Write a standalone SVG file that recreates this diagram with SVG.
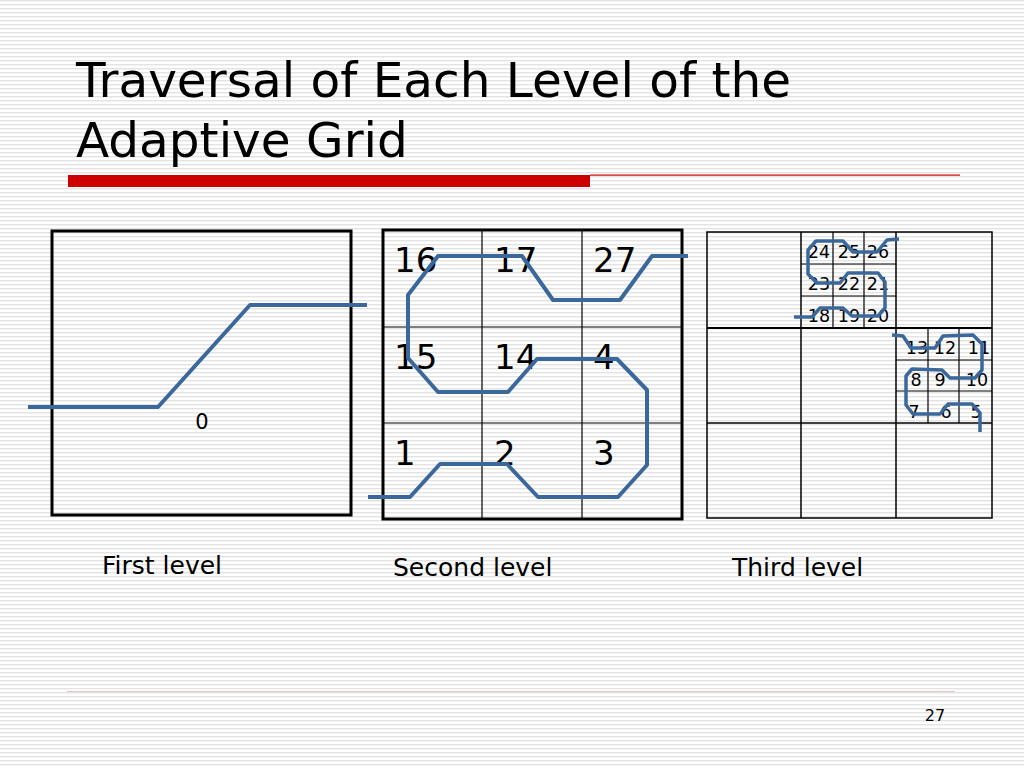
<svg xmlns="http://www.w3.org/2000/svg" width="1024" height="768" viewBox="0 0 1024 768">
  <defs>
    <pattern id="stripes" x="0" y="0" width="8" height="4" patternUnits="userSpaceOnUse">
      <rect x="0" y="0" width="8" height="4" fill="#ffffff"/>
      <rect x="0" y="0" width="8" height="1.4" fill="#e3e3e3"/>
    </pattern>
  </defs>
  <style>
    .title { font-family: "DejaVu Sans", Verdana, sans-serif; font-size: 48.5px; fill: #000; }
    .label { font-family: "DejaVu Sans", Verdana, sans-serif; font-size: 25px; fill: #000; }
    .n2 { font-family: "DejaVu Sans", Verdana, sans-serif; font-size: 34px; fill: #000; }
    .n3 { font-family: "DejaVu Sans", Verdana, sans-serif; font-size: 17.5px; fill: #000; text-anchor: middle; }
    .thick { fill: none; stroke: #000; stroke-width: 3; }
    .thin { fill: none; stroke: #000; stroke-width: 1.2; }
    .path { fill: none; stroke: #3b689b; stroke-width: 4; stroke-linejoin: round; }
    .path3 { fill: none; stroke: #3b689b; stroke-width: 3.5; stroke-linejoin: round; }
  </style>

  <rect x="0" y="0" width="1024" height="768" fill="url(#stripes)"/>

  <g id="title">
    <text class="title" x="76" y="97">Traversal of Each Level of the</text>
    <text class="title" x="76" y="157">Adaptive Grid</text>
    <rect x="68" y="175" width="522" height="12" fill="#cc0000"/>
    <rect x="590" y="174.5" width="370" height="1.2" fill="#cc0000"/>
  </g>

  <g id="first-level">
    <rect class="thick" x="52" y="231" width="299" height="284"/>
    <text class="label" x="202" y="429" text-anchor="middle" style="font-size:21px">0</text>
    <text class="label" x="102" y="574">First level</text>
  </g>

  <g id="second-level">
    <rect class="thick" x="383" y="230" width="299" height="289"/>
    <line class="thin" x1="482" y1="230" x2="482" y2="519"/>
    <line class="thin" x1="582" y1="230" x2="582" y2="519"/>
    <line class="thin" x1="383" y1="327" x2="682" y2="327"/>
    <line class="thin" x1="383" y1="423" x2="682" y2="423"/>
    <text class="n2" x="394" y="272">16</text>
    <text class="n2" x="494" y="272">17</text>
    <text class="n2" x="593" y="272">27</text>
    <text class="n2" x="394" y="369">15</text>
    <text class="n2" x="494" y="369">14</text>
    <text class="n2" x="593" y="369">4</text>
    <text class="n2" x="394" y="465">1</text>
    <text class="n2" x="494" y="465">2</text>
    <text class="n2" x="593" y="465">3</text>
    <text class="label" x="393" y="576">Second level</text>
  </g>

  <g id="third-level">
    <rect x="707" y="232" width="285" height="286" fill="none" stroke="#000" stroke-width="1.5"/>
    <line x1="801" y1="232" x2="801" y2="518" stroke="#000" stroke-width="1.5"/>
    <line x1="896" y1="232" x2="896" y2="518" stroke="#000" stroke-width="1.5"/>
    <line x1="707" y1="328" x2="992" y2="328" stroke="#000" stroke-width="2"/>
    <line x1="707" y1="423" x2="992" y2="423" stroke="#000" stroke-width="1.5"/>
    <line class="thin" x1="833" y1="232" x2="833" y2="328"/>
    <line class="thin" x1="864" y1="232" x2="864" y2="328"/>
    <line class="thin" x1="801" y1="264" x2="896" y2="264"/>
    <line class="thin" x1="801" y1="296" x2="896" y2="296"/>
    <line class="thin" x1="928" y1="328" x2="928" y2="423"/>
    <line class="thin" x1="959" y1="328" x2="959" y2="423"/>
    <line class="thin" x1="896" y1="360" x2="992" y2="360"/>
    <line class="thin" x1="896" y1="391" x2="992" y2="391"/>
    <text class="n3" x="819" y="258">24</text>
    <text class="n3" x="849" y="258">25</text>
    <text class="n3" x="878" y="258">26</text>
    <text class="n3" x="819" y="290">23</text>
    <text class="n3" x="849" y="290">22</text>
    <text class="n3" x="878" y="290">21</text>
    <text class="n3" x="819" y="322">18</text>
    <text class="n3" x="849" y="322">19</text>
    <text class="n3" x="878" y="322">20</text>
    <text class="n3" x="917" y="354">13</text>
    <text class="n3" x="945" y="354">12</text>
    <text class="n3" x="979" y="354">11</text>
    <text class="n3" x="916" y="386">8</text>
    <text class="n3" x="940" y="386">9</text>
    <text class="n3" x="977" y="386">10</text>
    <text class="n3" x="914" y="418">7</text>
    <text class="n3" x="946" y="418">6</text>
    <text class="n3" x="976" y="418">5</text>
    <text class="label" x="732" y="576">Third level</text>
  </g>

  <g id="connectors">
    <polyline class="path" points="28,407 158,407 250,305 367,305"/>
    <polyline class="path" points="368,497 410,497 440,464 507,464 538,497 618,497 647,465 647,390 617,359 537,359 508,392 438,392 408,358 408,295 438,256 522,256 553,300 620,300 652,256 688,256"/>
    <polyline class="path3" points="794,317 812,317 820,308 843,308 852,316 878,316 885,308 885,282 878,273 848,273 840,283 817,283 808,274 808,250 816,241 843,241 853,252 877,252 887,240 899,239"/>
    <polyline class="path3" points="892,335 903,336 911,348 935,348 943,336 973,335 982,344 982,370 975,378 950,378 942,370 912,369 906,376 906,405 913,414 940,414 948,404 972,404 980,413 980,432"/>
  </g>

  <g id="footer">
    <line x1="67" y1="691.5" x2="955" y2="691.5" stroke="#dcc6c6" stroke-width="1"/>
    <text x="935" y="721" text-anchor="middle" style="font-family: 'DejaVu Sans', Verdana, sans-serif; font-size: 16px; fill:#000">27</text>
  </g>
</svg>
